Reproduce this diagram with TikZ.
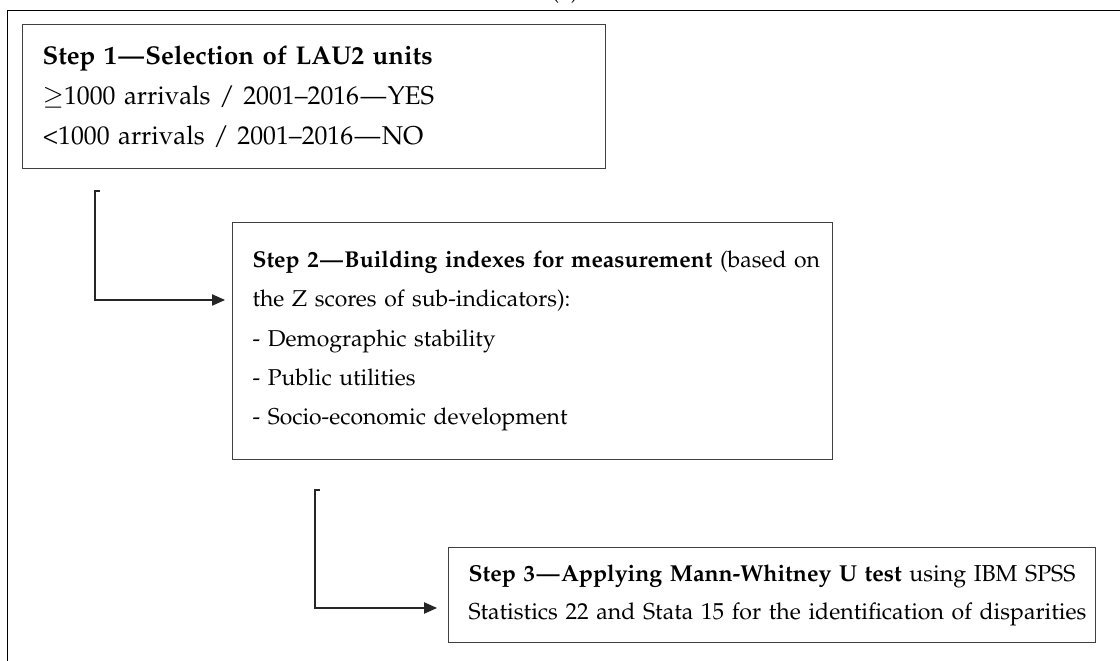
\documentclass[tikz,border=0pt]{standalone}
\usepackage[T1]{fontenc}
\usepackage{mathpazo}
\usepackage{tikz}
\usetikzlibrary{arrows.meta, positioning, calc}
\newcommand{\dsh}{\kern1pt---\kern1pt}
\tikzstyle{stepbox} = [rectangle, anchor=north west, draw=black!75, line width=0.8pt, align=left, inner xsep=0.5cm, inner ysep=0pt]
\tikzstyle{arrow} = [line width=0.8pt, draw=black!85, ->, >={Stealth[length=3.2mm,width=2.8mm,inset=0pt]}]

\begin{document}
\begin{tikzpicture}[x=0.025cm, y=-0.025cm]
    \useasboundingbox (0,0) rectangle (1120,661);
    % frame and panel label
    \draw[line width=0.7pt] (7,661) -- (7,10) -- (1120,10);
    \node (panel) [anchor=base, font=\fontsize{16.6}{20}\selectfont] at (565,-1) {(a)};

    \node (step1) [stepbox, text width=13.575cm, minimum height=3.6cm, font=\fontsize{18.3}{28.4}\selectfont] at (22,24)
        {\mbox{\textbf{Step 1\dsh Selection of LAU2 units}}\\
         \mbox{$\geq$1000 arrivals / 2001--2016\dsh YES}\\
         \mbox{<1000 arrivals / 2001--2016\dsh NO}};
    \node (step2) [stepbox, text width=14cm, minimum height=5.925cm, font=\fontsize{16.3}{28}\selectfont] at (232,222)
        {\mbox{\textbf{Step 2\dsh Building indexes for measurement} (based on}\\
         \mbox{the Z scores of sub-indicators):}\\
         \mbox{- Demographic stability}\\
         \mbox{- Public utilities}\\
         \mbox{- Socio-economic development}};
    \node (step3) [stepbox, text width=15.175cm, minimum height=2.375cm, font=\fontsize{16.4}{27}\selectfont] at (448,547)
        {\mbox{\textbf{Step 3\dsh Applying Mann-Whitney U test} using IBM SPSS}\\
         \mbox{Statistics 22 and Stata 15 for the identification of disparities}};

    % connectors
    \coordinate (t1) at (95,191);
    \coordinate (in2) at (225,300);
    \coordinate (t2) at (315,490);
    \coordinate (in3) at (437,608);
    \draw [arrow] ($(t1)+(5,0)$) -- (t1) |- (in2);
    \draw [arrow] ($(t2)+(5,0)$) -- (t2) |- (in3);
\end{tikzpicture}
\end{document}
